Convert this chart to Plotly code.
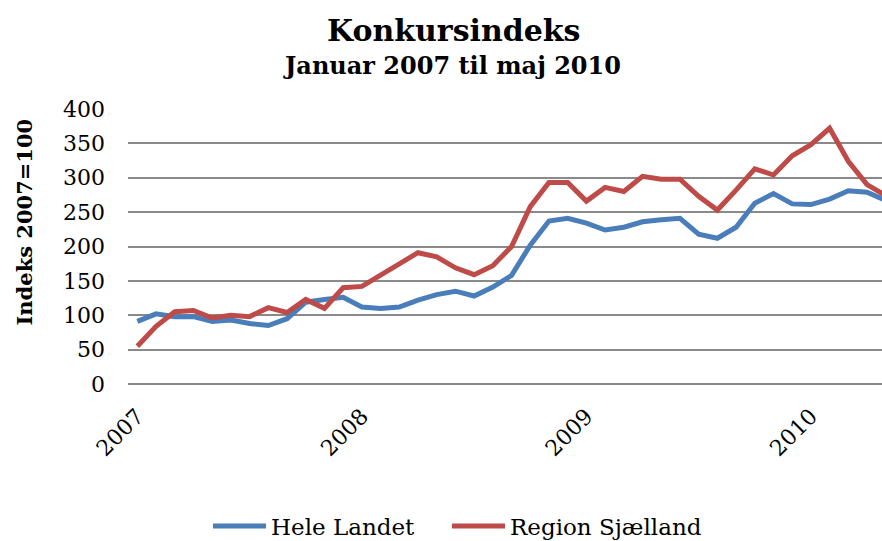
import plotly.graph_objects as go

months = [f"{y}-{m:02d}" for y in (2007, 2008, 2009, 2010) for m in range(1, 13)][:41]
hele_landet = [91, 102, 98, 98, 91, 93, 88, 85, 95, 119, 123, 126,
               112, 110, 112, 122, 130, 135, 128, 141, 158, 202, 237, 241,
               234, 224, 228, 236, 239, 241, 218, 212, 228, 263, 277, 262,
               261, 269, 281, 279, 267]
region_sjaelland = [55, 84, 105, 107, 96, 100, 98, 111, 104, 123, 110, 140,
                    142, 158, 173, 191, 185, 169, 159, 172, 200, 258, 293, 293,
                    266, 286, 280, 302, 298, 298, 273, 253, 282, 313, 304, 332,
                    348, 372, 324, 290, 274]
year_ticks = ["2007-01", "2008-01", "2009-01", "2010-01"]
year_labels = ["2007", "2008", "2009", "2010"]
y_ticks = [0, 50, 100, 150, 200, 250, 300, 350, 400]

FONT = "DejaVu Serif"
W, H = 882, 541
L, T = 128, 109
B = H - 384
PW = W - L
PH = 384 - 109


def px_x(page_x):
    return (page_x - L) / PW


fig = go.Figure()
fig.add_trace(go.Scatter(x=months, y=hele_landet, name="Hele Landet", mode="lines",
                         line=dict(color="#4a7ebb", width=5), legend="legend"))
fig.add_trace(go.Scatter(x=months, y=region_sjaelland, name="Region Sjælland", mode="lines",
                         line=dict(color="#be4b48", width=5), legend="legend2"))

leg_common = dict(orientation="h", xanchor="left", yanchor="middle",
                  yref="container", y=(H - 526) / H,
                  font=dict(size=23, family=FONT), itemwidth=53, bgcolor="rgba(0,0,0,0)")

fig.update_layout(
    width=W, height=H,
    margin=dict(l=L, r=0, t=T, b=B, autoexpand=False),
    paper_bgcolor="white", plot_bgcolor="white",
    font=dict(family=FONT, color="black"),
    showlegend=True,
    legend=dict(x=px_x(213 - 5), **leg_common),
    legend2=dict(x=px_x(452 - 5), **leg_common),
    xaxis=dict(type="category", categoryorder="array", categoryarray=months,
               range=[-0.5, 39.8],
               tickmode="array", tickvals=year_ticks, ticktext=year_labels,
               tickangle=-45, tickfont=dict(size=22, family=FONT),
               showgrid=False, showline=False, ticks="", zeroline=False,
               ticklabelstandoff=14, automargin=False),
    yaxis=dict(range=[0, 400], tickvals=y_ticks, tickfont=dict(size=22, family=FONT),
               showgrid=True, gridcolor="#8a8a8a", gridwidth=1.5,
               zeroline=True, zerolinecolor="#8a8a8a", zerolinewidth=1.5,
               showline=False, ticks="", ticklabelstandoff=22, automargin=False),
    annotations=[
        dict(text="<b>Konkursindeks</b>", x=px_x(453), y=1.0, xref="paper", yref="paper",
             yshift=(109 - 30), showarrow=False, xanchor="center", yanchor="middle",
             font=dict(size=30, family=FONT)),
        dict(text="<b>Januar 2007 til maj 2010</b>", x=px_x(452), y=1.0, xref="paper", yref="paper",
             yshift=(109 - 65), showarrow=False, xanchor="center", yanchor="middle",
             font=dict(size=24, family=FONT)),
        dict(text="<b>Indeks 2007=100</b>", x=px_x(24), y=0.5, xref="paper", yref="paper",
             yshift=(246 - 222), textangle=-90, showarrow=False, xanchor="center", yanchor="middle",
             font=dict(size=21, family=FONT)),
    ],
)

fig.write_html(
    "out.html",
    config={"displayModeBar": False},
    post_script="document.body.style.margin='0';document.body.style.overflow='hidden';",
)
